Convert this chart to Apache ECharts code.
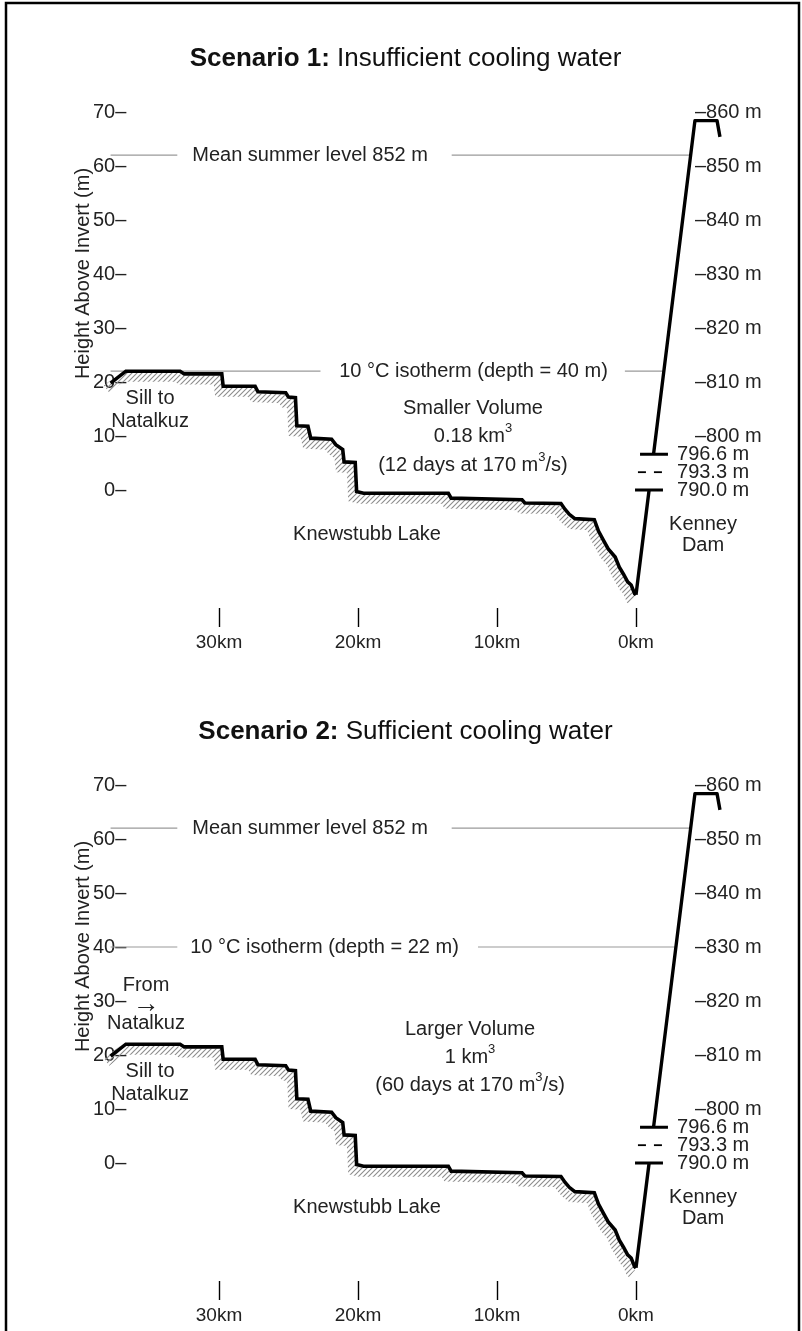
<!DOCTYPE html>
<html>
<head>
<meta charset="utf-8">
<script src="https://cdn.jsdelivr.net/npm/echarts@6/dist/echarts.min.js"></script>
<style>
html,body{margin:0;padding:0;background:#fff;}
#chart{width:802px;height:1331px;}
</style>
</head>
<body>
<div id="chart"></div>
<script>
// ---------------- data ----------------
const titlesBold = ['Scenario 1:', 'Scenario 2:'];
const titlesRest = ['Insufficient cooling water', 'Sufficient cooling water'];
const xTickKm = [0, 10, 20, 30];
const invertElevation = 790;
const gateLevels = [0, 3.3, 6.6];
const gateFromKm = [0.07, -0.14, -0.29];
const gateToKm = [-1.94, -1.94, -2.3];
const gateLabelKm = -2.95;

// lake-bed profile (distance from dam km, height above invert m)
const profileDist = [37.8, 36.7, 32.8, 32.5, 29.8, 29.7, 27.4, 27.2, 25.2, 25.0, 24.5, 24.4, 23.6, 23.4, 21.9, 21.6, 21.1, 21.0, 20.2, 20.1, 19.6, 13.5, 13.3, 8.2, 8.0, 5.4, 5.1, 4.8, 4.4, 3.0, 2.7, 2.3, 2.0, 1.5, 1.2, 0.9, 0.6, 0.35, 0.1, 0.0];
const profileH    = [19.8, 22.0, 22.0, 21.5, 21.5, 19.2, 19.2, 18.2, 18.0, 17.2, 17.1, 11.9, 11.8, 9.6, 9.4, 8.4, 7.5, 5.2, 5.1, -0.3, -0.6, -0.6, -1.5, -1.8, -2.4, -2.5, -3.6, -4.5, -5.3, -5.5, -7.6, -9.5, -10.9, -12.4, -14.3, -15.6, -17.0, -17.6, -19.2, -19.4];

// dam face
const damLowerDist = [0, -0.94];
const damLowerH = [-19.4, 0];
const damUpperDist = [-1.26, -4.24, -5.83, -6.04];
const damUpperH = [6.6, 68.4, 68.4, 65.4];

// reference levels
const meanLevel = 62;
const meanText = 'Mean summer level 852 m';
const meanTextKm = 23.45;
const meanBreakKm = [33.0, 13.26];
const isoLevel = [22, 40];
const isoText = ['10 °C isotherm (depth = 40 m)', '10 °C isotherm (depth = 22 m)'];
const isoTextKm = [11.69, 22.41];
const isoBreakKm = [[22.7, 0.8], [33.0, 11.37]];
const lineStartKm = 37.8;

// annotations
const annoText = [
  ['Sill to\nNatalkuz', 'Smaller Volume\n0.18 km{sup|3}\n(12 days at 170 m{sup|3}/s)', 'Knewstubb Lake', 'Kenney\nDam'],
  ['From\n{arr|→}\nNatalkuz', 'Sill to\nNatalkuz', 'Larger Volume\n1 km{sup|3}\n(60 days at 170 m{sup|3}/s)', 'Knewstubb Lake', 'Kenney\nDam']
];
const annoKm = [[34.96, 11.73, 19.35, -4.82], [35.25, 34.96, 11.94, 19.35, -4.82]];
const annoH = [[14.9, 9.9, -8.15, -8.3], [29.3, 14.9, 19.6, -8.15, -8.3]];
const annoLH = [[23, 28.5, 24, 21], [19, 23, 28, 24, 21]];

// ---------------- layout/style ----------------
const FONT = '"Liberation Sans", Arial, Helvetica, sans-serif';
const TXT = '#222';
const PANEL_DY = 673;
const G_LEFT = 107.8, G_W = 625.5, G_TOP = 112, G_H = 486;

const pc = document.createElement('canvas');
pc.width = 5; pc.height = 5;
const pctx = pc.getContext('2d');
pctx.strokeStyle = '#8c8c8c';
pctx.lineWidth = 1.1;
pctx.beginPath();
pctx.moveTo(0, 5); pctx.lineTo(5, 0);
pctx.moveTo(-1, 1); pctx.lineTo(1, -1);
pctx.moveTo(4, 6); pctx.lineTo(6, 4);
pctx.stroke();
const hatch = { image: pc, repeat: 'repeat' };

function damDistAt(h) {
  const d0 = damLowerDist[0], h0 = damLowerH[0], d1 = damUpperDist[1], h1 = damUpperH[1];
  return d0 + (d1 - d0) * (h - h0) / (h1 - h0);
}

const grids = [], xAxes = [], yAxes = [], series = [], graphics = [];

graphics.push({
  type: 'rect', shape: { x: 6, y: 3, width: 793, height: 1400 },
  style: { fill: 'none', stroke: '#000', lineWidth: 2.5 }, silent: true
});

const labelBase = {
  show: true, position: 'inside', formatter: q => q.name,
  fontSize: 20, fontFamily: FONT, color: TXT, opacity: 1,
  rich: {
    sup: { fontSize: 13, fontFamily: FONT, color: TXT, verticalAlign: 'top', lineHeight: 17 },
    arr: { fontSize: 27, fontFamily: FONT, color: TXT, lineHeight: 19 }
  }
};

for (let p = 0; p < 2; p++) {
  const top = G_TOP + p * PANEL_DY;
  grids.push({ left: G_LEFT, top: top, width: G_W, height: G_H });
  xAxes.push({
    gridIndex: p, type: 'value', inverse: true, min: -7, max: 38, offset: 10,
    axisLine: { show: false, onZero: false }, splitLine: { show: false },
    axisTick: { show: true, length: 19, customValues: xTickKm, lineStyle: { color: '#000', width: 1.4 } },
    axisLabel: { customValues: xTickKm, formatter: v => v + 'km', margin: 25, fontSize: 19, fontFamily: FONT, color: TXT }
  });
  // left axis
  yAxes.push({
    gridIndex: p, type: 'value', min: -20, max: 70, interval: 10, position: 'left', offset: -20.5,
    axisLine: { show: false, onZero: false }, axisTick: { show: false }, splitLine: { show: false },
    axisLabel: { formatter: v => (v >= 0 ? v + '–' : ''), margin: 2, fontSize: 20, fontFamily: FONT, color: TXT }
  });
  // right elevation axis
  yAxes.push({
    gridIndex: p, type: 'value', min: -20, max: 70, interval: 10, position: 'right', offset: -40.3,
    axisLine: { show: false, onZero: false }, axisTick: { show: false }, splitLine: { show: false },
    axisLabel: { formatter: v => (v >= 10 ? '–' + (invertElevation + v) + ' m' : ''), margin: 2, fontSize: 20, fontFamily: FONT, color: TXT }
  });
  const yi = 2 * p;

  // title
  graphics.push({
    type: 'text', x: 405.5, y: 59 + p * PANEL_DY, silent: true,
    style: {
      text: '{b|' + titlesBold[p] + '} ' + titlesRest[p],
      fontSize: 26, fontFamily: FONT, fill: '#111', align: 'center', verticalAlign: 'middle',
      rich: { b: { fontWeight: 'bold', fontSize: 26, fontFamily: FONT, fill: '#111' } }
    }
  });
  // y axis name
  graphics.push({
    type: 'text', x: 83, y: 273.5 + p * PANEL_DY, rotation: Math.PI / 2, silent: true,
    style: { text: 'Height Above Invert (m)', fontSize: 20, fontFamily: FONT, fill: TXT, align: 'center', verticalAlign: 'middle' }
  });

  // reference lines
  const refSegs = [
    [meanLevel, lineStartKm, meanBreakKm[0]],
    [meanLevel, meanBreakKm[1], damDistAt(meanLevel)],
    [isoLevel[p], lineStartKm, isoBreakKm[p][0]],
    [isoLevel[p], isoBreakKm[p][1], damDistAt(isoLevel[p])]
  ];
  refSegs.forEach(s => {
    series.push({
      type: 'line', xAxisIndex: p, yAxisIndex: yi, symbol: 'none', silent: true, z: 1,
      data: [[s[1], s[0]], [s[2], s[0]]],
      lineStyle: { color: '#9a9a9a', width: 1.2 }
    });
  });

  // hatch under profile
  series.push({
    type: 'custom', xAxisIndex: p, yAxisIndex: yi, silent: true, z: 2,
    data: [[profileDist[0], profileH[0]]],
    renderItem: function (params, api) {
      const pts = profileDist.map((d, k) => {
        const c = api.coord([d, profileH[k]]);
        return [c[0] - 4, c[1] + 6];
      });
      return { type: 'polyline', shape: { points: pts }, style: { stroke: hatch, lineWidth: 9, fill: 'none', lineJoin: 'miter' } };
    }
  });

  // profile
  series.push({
    type: 'line', xAxisIndex: p, yAxisIndex: yi, symbol: 'none', silent: true, z: 3,
    data: profileDist.map((d, k) => [d, profileH[k]]),
    lineStyle: { color: '#000', width: 3.6, join: 'miter' }
  });
  // dam
  series.push({
    type: 'line', xAxisIndex: p, yAxisIndex: yi, symbol: 'none', silent: true, z: 3,
    data: damLowerDist.map((d, k) => [d, damLowerH[k]]),
    lineStyle: { color: '#000', width: 3.4 }
  });
  series.push({
    type: 'line', xAxisIndex: p, yAxisIndex: yi, symbol: 'none', silent: true, z: 3,
    data: damUpperDist.map((d, k) => [d, damUpperH[k]]),
    lineStyle: { color: '#000', width: 3.4, join: 'round' }
  });
  // gates
  gateLevels.forEach((g, k) => {
    series.push({
      type: 'line', xAxisIndex: p, yAxisIndex: yi, symbol: 'none', silent: true, z: 3,
      data: [[gateFromKm[k], g], [gateToKm[k], g]],
      lineStyle: k === 1 ? { color: '#000', width: 1.8, type: [8, 8] } : { color: '#000', width: 3 }
    });
  });

  // annotations
  const annoData = [];
  annoText[p].forEach((t, k) => {
    annoData.push({ value: [annoKm[p][k], annoH[p][k]], name: t, label: { lineHeight: annoLH[p][k], align: 'center' } });
  });
  annoData.push({ value: [meanTextKm, meanLevel], name: meanText, label: { lineHeight: 24, align: 'center' } });
  annoData.push({ value: [isoTextKm[p], isoLevel[p]], name: isoText[p], label: { lineHeight: 24, align: 'center' } });
  gateLevels.forEach(g => {
    annoData.push({ value: [gateLabelKm, g], name: (invertElevation + g).toFixed(1) + ' m', label: { lineHeight: 20, align: 'left' } });
  });
  series.push({
    type: 'scatter', xAxisIndex: p, yAxisIndex: yi, symbolSize: 0, silent: true, z: 5,
    itemStyle: { opacity: 1 },
    labelLayout: { hideOverlap: false },
    data: annoData,
    label: labelBase
  });
}

const chart = echarts.init(document.getElementById('chart'), null, { renderer: 'canvas' });
chart.setOption({
  animation: false,
  backgroundColor: '#fff',
  grid: grids,
  xAxis: xAxes,
  yAxis: yAxes,
  series: series,
  graphic: graphics
});
</script>
</body>
</html>
